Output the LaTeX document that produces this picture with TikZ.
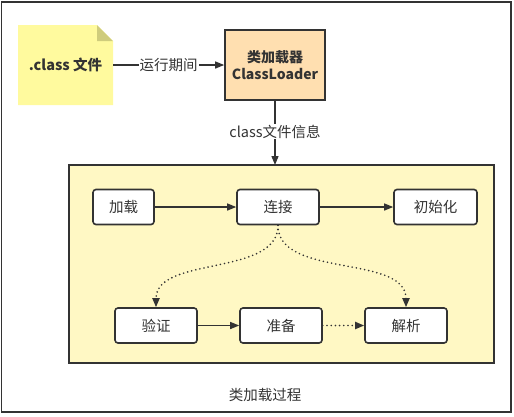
\documentclass[tikz,border=0pt]{standalone}
\usepackage{fontspec}
\setmainfont{Noto Sans CJK SC}
\usetikzlibrary{arrows.meta}

\definecolor{notefill}{HTML}{FFFA9E}
\definecolor{notefold}{HTML}{CFCC7C}
\definecolor{loaderfill}{HTML}{FFDFB0}
\definecolor{stagefill}{HTML}{FFF8C4}
\definecolor{linegray}{HTML}{333333}

\begin{document}
\begin{tikzpicture}[x=1pt,y=-1pt,
    every node/.style={font=\fontsize{14.5}{17}\selectfont, text=linegray},
    stage/.style={draw=linegray, line width=1.6pt, fill=white, rounded corners=3pt,
        minimum width=82pt, minimum height=35pt, inner sep=0pt},
    flow/.style={draw=linegray, line width=1.3pt, -{Triangle[length=9pt,width=7pt]}},
    dotflow/.style={flow, line width=1.8pt, dash pattern=on 0pt off 4.2pt, line cap=round}]
        \useasboundingbox (0,0) rectangle (514,416);
        % outer frame
        \draw[linegray, line width=1.2pt] (1.5,2) rectangle (511,412);

        % the .class note with its folded corner
        \fill[notefill] (18,25) -- (97,25) -- (113,41) -- (113,105) -- (18,105) -- cycle;
        \fill[notefold] (97,25) -- (97,41) -- (113,41) -- cycle;
        \node[font=\fontsize{14.5}{17}\selectfont\bfseries] (note) at (65.5,65) {.class 文件};
        \coordinate (noteE) at (113,65);

        % the class loader
        \node[draw=linegray, line width=1.6pt, fill=loaderfill, minimum width=100pt,
            minimum height=70pt, align=center, inner sep=0pt,
            font=\fontsize{14}{17}\selectfont\bfseries] (loader) at (275,65) {类加载器\\ClassLoader};

        % the stage box
        \draw[linegray, line width=1.6pt, fill=stagefill] (69,165) rectangle (494,363);
        \coordinate (stageN) at (275,165);
        \node (title) at (265,395) {类加载过程};

        % stages
        \node[stage, minimum width=61pt] (load) at (123.5,207) {加载};
        \node[stage] (link) at (278,207) {连接};
        \node[stage, minimum width=83pt] (init) at (435.5,207) {初始化};
        \node[stage] (verify) at (156,325.5) {验证};
        \node[stage] (prepare) at (281,325.5) {准备};
        \node[stage] (resolve) at (406,325.5) {解析};

        % connectors
        \draw[flow] (noteE) -- node[fill=white, inner sep=1pt] {运行期间} (loader.west);
        \draw[flow] (loader.south) -- node[fill=white, inner sep=1pt, pos=0.48] {class文件信息} (stageN);
        \draw[flow] (load) -- (link);
        \draw[flow] (link) -- (init);
        \draw[flow] (verify) -- (prepare);
        \draw[dotflow] (prepare) -- (resolve);
        \draw[dotflow] (link.south) to[out=-90, in=90, looseness=0.9] (verify.north);
        \draw[dotflow] (link.south) to[out=-90, in=90, looseness=0.9] (resolve.north);
    \end{tikzpicture}
\end{document}
